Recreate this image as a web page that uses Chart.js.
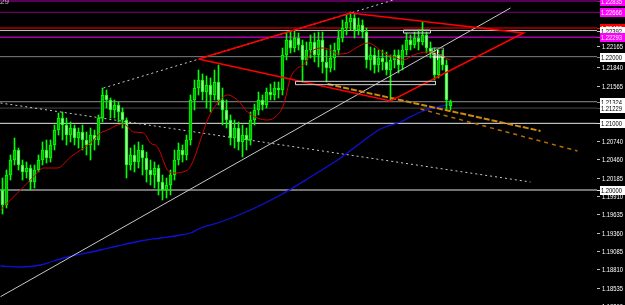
<!DOCTYPE html>
<html><head><meta charset="utf-8">
<script src="https://cdn.jsdelivr.net/npm/chart.js@4/dist/chart.umd.min.js"></script>
<style>html,body{margin:0;padding:0;background:#000;overflow:hidden}canvas{display:block}</style>
</head><body><canvas id="c" width="625" height="305"></canvas>
<script>
// ---- candles (bar index 0..112) ----
const opens=[1.2,1.19775,1.20225,1.2045,1.206,1.20375,1.2027,1.2033,1.2012,1.203,
1.2045,1.206,1.2048,1.20675,1.209,1.2108,1.20975,1.20825,1.2093,1.2078,
1.2087,1.2075,1.20675,1.20825,1.2075,1.2108,1.21425,1.2135,1.212,1.21275,
1.2117,1.2105,1.20375,1.20525,1.2042,1.206,1.2048,1.203,1.20225,1.2033,
1.2012,1.2,1.20075,1.20225,1.2045,1.206,1.20525,1.2075,1.2135,1.2153,
1.2165,1.2147,1.21575,1.21425,1.2162,1.2135,1.212,1.2105,1.2078,1.2093,
1.2072,1.20825,1.2075,1.2105,1.212,1.2135,1.21275,1.2147,1.21425,1.2153,
1.215,1.22025,1.2225,1.2213,1.2228,1.22175,1.2195,1.221,1.2222,1.22025,
1.2225,1.2192,1.2183,1.2198,1.221,1.2228,1.2243,1.2252,1.2258,1.224,
1.22475,1.2237,1.2195,1.22025,1.21875,1.2198,1.2192,1.218,1.2195,1.22025,
1.21875,1.221,1.2225,1.22175,1.2228,1.2222,1.22325,1.2213,1.2207,1.21725,
1.22025,1.21875,1.2126];
const highs=[1.2018,1.203,1.20525,1.2078,1.2063,1.2045,1.2042,1.20375,1.20375,1.20525,
1.2072,1.2075,1.2075,1.20975,1.21155,1.2117,1.2108,1.2102,1.20975,1.2093,
1.20975,1.2087,1.2093,1.209,1.21125,1.2153,1.215,1.2138,1.2135,1.2132,
1.2123,1.2108,1.2063,1.20675,1.2072,1.20675,1.2057,1.2045,1.2042,1.20375,
1.20225,1.2018,1.203,1.206,1.20705,1.20675,1.20825,1.21425,1.2165,1.218,
1.2174,1.2171,1.2168,1.218,1.21875,1.2153,1.2135,1.21125,1.2105,1.2102,
1.20975,1.2093,1.2117,1.2129,1.2147,1.21425,1.2153,1.2159,1.2162,1.2162,
1.2213,1.22355,1.2237,1.224,1.22355,1.2225,1.2222,1.22325,1.22355,1.2237,
1.2237,1.221,1.22175,1.22205,1.224,1.2255,1.22625,1.2267,1.2264,1.2258,
1.2255,1.2243,1.22145,1.2213,1.221,1.221,1.2207,1.22025,1.221,1.221,
1.22175,1.22355,1.22325,1.2237,1.224,1.2252,1.2237,1.2222,1.2213,1.221,
1.221,1.2195,1.2135];
const lows=[1.1964,1.1973,1.2015,1.20375,1.203,1.2015,1.2018,1.2,1.2003,1.2027,
1.20375,1.20405,1.2042,1.206,1.20825,1.2075,1.20675,1.2072,1.20675,1.2063,
1.206,1.20525,1.2045,1.206,1.20675,1.2102,1.2123,1.2108,1.2108,1.2102,
1.2093,1.2018,1.203,1.2027,1.2033,1.20225,1.2012,1.20075,1.2003,1.19925,
1.1985,1.1988,1.19925,1.2015,1.20375,1.2042,1.2045,1.20675,1.212,1.21425,
1.2135,1.2123,1.2117,1.2135,1.21275,1.20975,1.2093,1.20675,1.2063,1.206,
1.20495,1.206,1.20675,1.20975,1.21125,1.212,1.2123,1.2135,1.2135,1.2138,
1.21425,1.2195,1.22055,1.2207,1.221,1.2162,1.21875,1.2198,1.2192,1.21845,
1.21755,1.2162,1.2177,1.218,1.22025,1.2222,1.22325,1.224,1.2228,1.22325,
1.2228,1.2183,1.218,1.21755,1.2177,1.218,1.21725,1.2135,1.2183,1.21755,
1.218,1.22025,1.221,1.2213,1.221,1.22175,1.22055,1.2198,1.2165,1.2168,
1.218,1.212,1.212];
const closes=[1.19775,1.20225,1.2045,1.206,1.20375,1.2027,1.2033,1.2012,1.203,1.2045,
1.206,1.2048,1.20675,1.209,1.2108,1.20975,1.20825,1.2093,1.2078,1.2087,
1.2075,1.20675,1.20825,1.2075,1.2108,1.21425,1.2135,1.212,1.21275,1.2117,
1.2105,1.20375,1.20525,1.2042,1.206,1.2048,1.203,1.20225,1.2033,1.2012,
1.2,1.20075,1.20225,1.2045,1.206,1.20525,1.2075,1.2135,1.2153,1.2165,
1.2147,1.21575,1.21425,1.2162,1.2135,1.212,1.2105,1.2078,1.2093,1.2072,
1.20825,1.2075,1.2105,1.212,1.2135,1.21275,1.2147,1.21425,1.2153,1.215,
1.22025,1.2225,1.2213,1.2228,1.22175,1.2195,1.221,1.2222,1.22025,1.2225,
1.2192,1.2183,1.2198,1.221,1.2228,1.2243,1.2252,1.2258,1.224,1.22475,
1.2237,1.2195,1.22025,1.21875,1.2198,1.2192,1.218,1.2195,1.22025,1.21875,
1.221,1.2225,1.22175,1.2228,1.2222,1.22325,1.2213,1.2207,1.21725,1.22025,
1.21875,1.2135,1.21324];

// ---- moving averages [barIndex, price] ----
const maRed=[[-0.5,1.197],[2.75,1.19895],[7.75,1.20195],[10.25,1.2033],[13.75,1.2033],[17,1.20495],[19.5,1.206],[22,1.20705],[24.5,1.20855],[26.25,1.209],[28.75,1.20975],[30.25,1.2099],[32.75,1.2087],[35.25,1.20855],[37,1.20705],[38.75,1.20645],[41.25,1.203],[42.75,1.20255],[46.25,1.203],[47.75,1.2045],[49.5,1.2075],[51.25,1.2105],[53.75,1.21305],[56.25,1.21425],[58.75,1.2135],[61.25,1.2117],[63.75,1.2108],[66.25,1.2105],[68.75,1.21125],[70.25,1.21275],[72,1.2168],[73.75,1.2183],[75.25,1.21875],[76.5,1.21995],[77.75,1.221],[80.25,1.2213],[82,1.221],[83.75,1.2204],[86.25,1.22055],[88.75,1.22145],[91.25,1.22205],[92.75,1.22175],[95.25,1.22055],[97.75,1.21995],[100.25,1.2195],[102.75,1.22025],[106.25,1.2207],[108.75,1.22055],[110.25,1.21995],[112,1.2195]];
const maBlue=[[-0.5,1.1886],[4.5,1.18845],[9.5,1.18875],[12.75,1.18935],[16.25,1.18995],[24.5,1.191],[28.75,1.1916],[34.5,1.19235],[39.5,1.1928],[44.5,1.19325],[47,1.19355],[49.5,1.1943],[54.5,1.1952],[62,1.197],[69.5,1.19925],[77,1.20195],[84.5,1.2048],[89.5,1.20705],[94.5,1.20915],[99.5,1.2102],[104.5,1.2117],[107.75,1.2123],[112,1.2129]];

// ---- drawn objects [barIndex, price] ----
const trendSolid=[[-0.5,1.184],[127,1.2273]];
const trendDotUpper=[[25.25,1.2153],[97.75,1.2285]];
const trendDotLower=[[-0.5,1.21305],[132,1.2012]];
const channelRed=[[49,1.21965],[87,1.22655],[130.25,1.22355],[97,1.21335],[49,1.21965]];
const orangeA=[[81.25,1.2159],[134.5,1.20885]];
const orangeB=[[104.5,1.21215],[143.75,1.20585]];
const rectWide=[[73.25,1.2163],[108.25,1.2163],[108.25,1.2158],[73.25,1.2158],[73.25,1.2163]];
const rectSmall=[[100.25,1.224],[107,1.224],[107,1.22355],[100.25,1.22355],[100.25,1.224]];
const rectGray=[[107.5,1.2213],[110.25,1.2213],[110.25,1.22025],[107.5,1.22025],[107.5,1.2213]];
const crossV=[[108.75,1.2210],[108.75,1.2195]];
const crossH=[[107.5,1.21995],[110.5,1.21995]];

// ---- horizontal levels & price axis ----
const levelValues=[1.22835,1.22666,1.22430,1.22392,1.22293,1.22000,1.21324,1.21229,1.21000,1.20000];
const levelColors=['#b000b0','#800080','#ff0000','#c0c0c0','#ff00ff','#808080','#909090','#4a4a4a','#e6e6e6','#e6e6e6'];
const levelBg=['#ff00ff','#ff00ff','#ff0000','#ffffff','#ff00ff','#ffffff','#ffffff','#ffffff','#ffffff','#ffffff'];
const levelText=['#ffffff','#ffffff','#ffffff','#000000','#ffffff','#000000','#000000','#000000','#000000','#000000'];
const tickValues=[1.22165,1.21840,1.21565,1.20740,1.20460,1.20185,1.19910,1.19635,1.19360,1.19085,1.18810,1.18535,1.18260];

const Y_MIN=1.18275, Y_MAX=1.2285, X_MIN=-0.625, X_MAX=148.625;

const bull=closes.map((c,i)=>c>=opens[i]);
const datasets=[];
function line(data,color,width,dash,order,extra){
  datasets.push(Object.assign({type:'line',data,borderColor:color,borderWidth:width,borderDash:dash||[],pointRadius:0,fill:false,tension:0,order},extra||{}));
}
levelValues.forEach((v,k)=>line([[X_MIN,v],[X_MAX,v]],levelColors[k],1,[],200+k));
line(trendDotUpper,'#c8c8c8',1,[2,3],150);
line(trendDotLower,'#c8c8c8',1,[2,3],151);
line(maBlue,'#1010d8',1.3,[],140,{cubicInterpolationMode:'monotone'});
datasets.push({type:'bar',data:highs.map((h,i)=>({x:i,y:[lows[i],h]})),backgroundColor:'#00ff00',barThickness:1,grouped:false,order:120});
datasets.push({type:'bar',data:opens.map((o,i)=>({x:i,y:[o,closes[i]]})),backgroundColor:bull.map(b=>b?'#00b400':'#a8ffa8'),borderColor:'#00ff00',borderWidth:1,borderSkipped:false,barThickness:3,grouped:false,order:110});
line(maRed,'#d00000',1,[],100,{cubicInterpolationMode:'monotone'});
line(trendSolid,'#c8c8c8',1,[],90);
line(orangeA,'#d08a10',2,[6,2],80);
line(orangeB,'#b86e00',1.5,[4,4],81);
line(channelRed,'#ff0000',1.6,[],70);
line(rectWide,'#d0d0d0',1,[],60);
line(rectSmall,'#d0d0d0',1,[],61);
line(rectGray,'#909090',1,[],62);
line(crossV,'#ffffff',1,[],63);
line(crossH,'#ffffff',1,[],64);

const labelPlugin={
  id:'mtLabels',
  afterDraw(chart){
    const ctx=chart.ctx, ys=chart.scales.y, right=chart.chartArea.right;
    ctx.save();
    ctx.font='8px "Liberation Sans", Arial, sans-serif';
    ctx.textBaseline='middle';
    ctx.lineWidth=1;
    tickValues.forEach(v=>{
      const y=Math.round(ys.getPixelForValue(v))+0.5;
      ctx.strokeStyle='#c0c0c0';
      ctx.beginPath();ctx.moveTo(right,y);ctx.lineTo(right+3,y);ctx.stroke();
      ctx.fillStyle='#ffffff';
      ctx.fillText(v.toFixed(5),right+5,y+0.5,21);
    });
    levelValues.forEach((v,k)=>{
      const y=Math.round(ys.getPixelForValue(v));
      ctx.fillStyle=levelColors[k];
      ctx.fillRect(right,y,3,1);
      ctx.fillStyle=levelBg[k];
      ctx.fillRect(right+3,y-4,25,9);
      ctx.fillStyle=levelText[k];
      ctx.fillText(v.toFixed(5),right+4,y+1,21);
    });
    ctx.fillStyle='#c0c0c0';
    ctx.textBaseline='alphabetic';
    ctx.fillText('29',0,4);
    ctx.restore();
  }
};

new Chart(document.getElementById('c'),{
  type:'bar',
  data:{datasets},
  options:{
    responsive:false,animation:false,devicePixelRatio:1,events:[],
    layout:{padding:{left:0,right:28,top:0,bottom:0}},
    plugins:{legend:{display:false},tooltip:{enabled:false}},
    scales:{
      x:{type:'linear',min:X_MIN,max:X_MAX,display:false,offset:false},
      y:{type:'linear',min:Y_MIN,max:Y_MAX,display:false}
    }
  },
  plugins:[labelPlugin]
});
</script>
</body></html>
